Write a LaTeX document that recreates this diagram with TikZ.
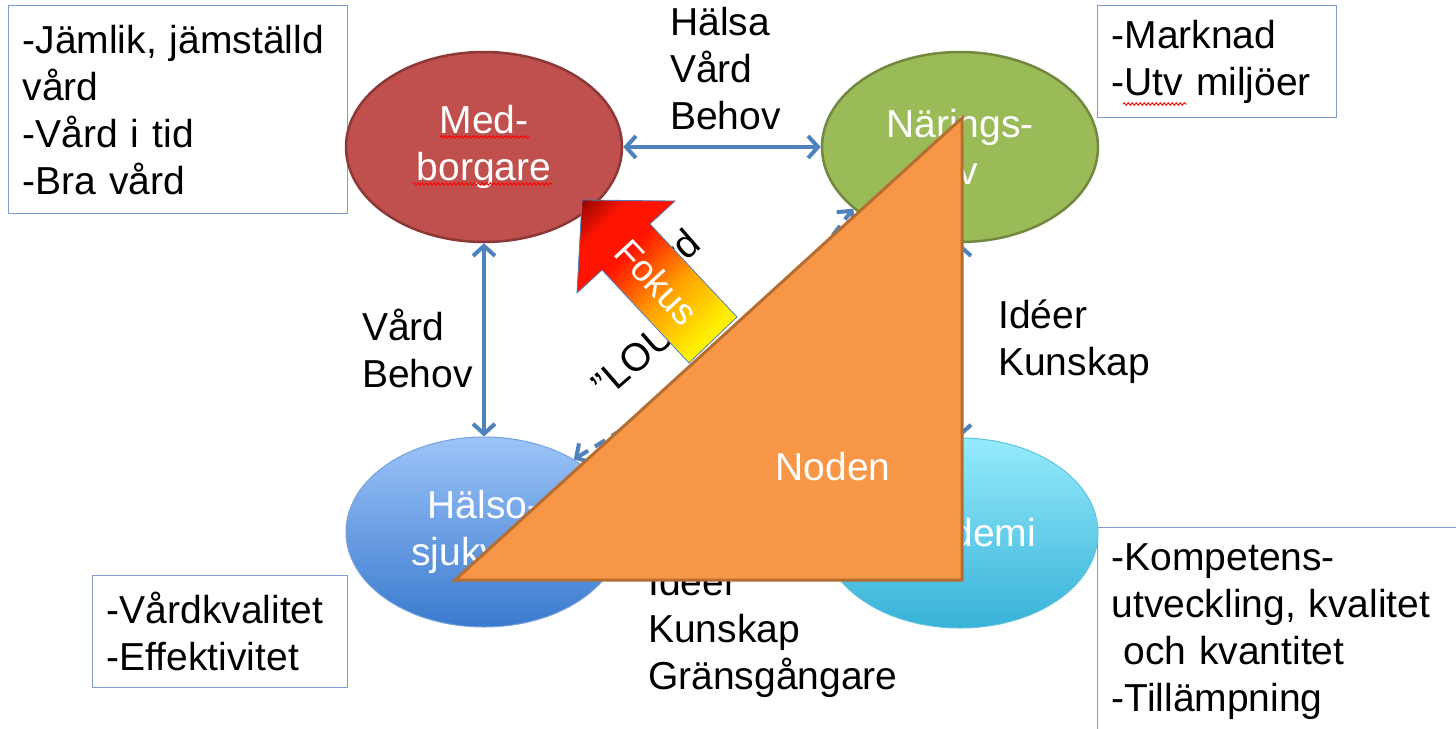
\documentclass[tikz,border=0pt]{standalone}
\usepackage{fontspec}
\setmainfont{Liberation Sans}
\usetikzlibrary{shapes.geometric,arrows.meta,decorations.pathmorphing}
\definecolor{linkblue}{RGB}{79,129,189}
\definecolor{noteblue}{RGB}{124,156,208}
\definecolor{medred}{RGB}{192,80,77}
\definecolor{medrim}{RGB}{140,56,54}
\definecolor{nargreen}{RGB}{155,187,89}
\definecolor{narrim}{RGB}{113,137,63}
\definecolor{hstop}{RGB}{157,196,249}
\definecolor{hsbot}{RGB}{58,122,206}
\definecolor{aktop}{RGB}{149,235,252}
\definecolor{akbot}{RGB}{56,178,216}
\definecolor{nodorange}{RGB}{247,150,70}
\definecolor{nodrim}{RGB}{182,109,49}
\definecolor{fkyellow}{RGB}{255,240,0}
\definecolor{fkorange}{RGB}{255,160,0}
\definecolor{fkred}{RGB}{255,20,0}
\definecolor{fkdark}{RGB}{110,0,0}
\pgfdeclarehorizontalshading{fokusfade}{100bp}{color(0bp)=(fkyellow); color(27bp)=(fkyellow); color(45bp)=(fkorange); color(63bp)=(fkred); color(74bp)=(fkred); color(88bp)=(fkdark); color(100bp)=(fkdark)}
\begin{document}
\begin{tikzpicture}[
	x=1pt, y=-1pt,
	every node/.style={font=\fontsize{39}{47}\selectfont},
	actor/.style={ellipse, minimum width=276pt, minimum height=190pt, inner sep=0pt, align=center, text=white},
	note/.style={draw=noteblue, line width=1.3pt, anchor=north west, align=left, inner xsep=14pt},
	flow/.style={align=left, inner sep=0pt},
	link/.style={draw=linkblue, line width=4pt, arrows={Straight Barb[length=10pt,width=22pt]-Straight Barb[length=10pt,width=22pt]}},
	squiggle/.style={draw=red, line width=.9pt, decorate, decoration={snake, amplitude=1.2pt, segment length=4pt}}
]
\useasboundingbox (0,0) rectangle (1456,728);
\clip (0,0) rectangle (1456,728);
\node[note, text width=311pt, minimum height=208pt] (MBN) at (8,5) {-Jämlik, jämställd\\vård\\-Vård i tid\\-Bra vård};
\node[note, text width=211pt, minimum height=112pt] (NLN) at (1097,5) {-Marknad\\-Utv miljöer};
\node[note, text width=227pt, minimum height=112pt] (HSN) at (92,575) {-Vårdkvalitet\\-Effektivitet};
\node[note, text width=345pt, minimum height=208pt] (AKN) at (1097,527) {-Kompetens-\\utveckling, kvalitet\\\hspace*{.3em}och kvantitet\\-Tillämpning};
\node[actor, fill=medred, draw=medrim, line width=2.5pt] (MB) at (484,147) {Med-\\borgare};
\node[actor, fill=nargreen, draw=narrim, line width=2.5pt] (NL) at (960,147) {Närings-\\liv};
\node[actor, top color=hstop, bottom color=hsbot, draw=hsbot!70, line width=1pt] (HS) at (484,532) {Hälso-\\sjukvård};
\node[actor, top color=aktop, bottom color=akbot, draw=akbot!80, line width=1pt] (AK) at (960,533) {Akademi};
\draw[link] (MB) -- (NL);
\draw[link] (MB) -- (HS);
\draw[link] (NL) -- (AK);
\draw[link] (HS) -- (AK);
\draw[link, dash pattern=on 12pt off 8pt] (HS.39) to[bend right=11] (NL.210);
\node[flow, anchor=west] (HVB) at (670,69) {Hälsa\\Vård\\Behov};
\node[flow, anchor=west] (VB) at (362,348) {Vård\\Behov};
\node[flow, anchor=west] (IK) at (998,342) {Idéer\\Kunskap};
\node[flow, anchor=west] (IKG) at (648,632) {Ideer\\Kunskap\\Gränsgångare};
\node[flow, rotate=41] (VD) at (662,263) {Vård};
\node[flow, rotate=41, anchor=west] (LOU) at (598,390) {”LOU”};
\draw[squiggle] (440,137) -- (530,137);
\draw[squiggle] (413,184) -- (552,184);
\draw[squiggle] (1123,104) -- (1187,104);
\filldraw[fill=nodorange, draw=nodrim, line width=3pt] (455,580) -- (962,580) -- (962,118) -- cycle;
\node[text=white] (ND) at (833,467) {Noden};
\shadedraw[shading=fokusfade, shading angle=135, draw=linkblue, line width=.8pt] (689,363) -- (602,270) -- (577,293) -- (582,200) -- (675,201) -- (650,224) -- (737,317) -- cycle;
\node[text=white, rotate=-47, font=\fontsize{37}{44}\selectfont] (FK) at (657,282) {Fokus};
\end{tikzpicture}
\end{document}
